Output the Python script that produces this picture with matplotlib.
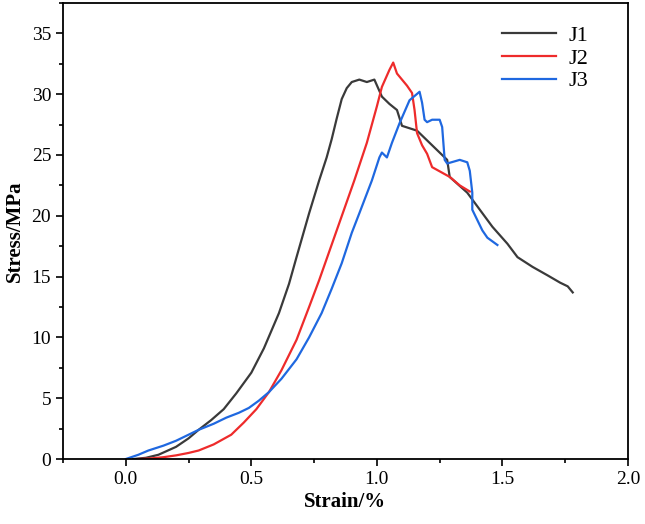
import numpy as np
import matplotlib.pyplot as plt
from matplotlib.ticker import MultipleLocator

# Stress-strain curves
j1_strain = [0.03, 0.08, 0.13, 0.20, 0.25, 0.29, 0.34, 0.39, 0.44, 0.50, 0.55, 0.61, 0.65,
             0.68, 0.73, 0.77, 0.80, 0.82, 0.84, 0.86, 0.88, 0.90, 0.93, 0.96, 0.99, 1.02,
             1.05, 1.08, 1.10, 1.16, 1.22, 1.28, 1.29, 1.36, 1.41, 1.46, 1.52, 1.56, 1.62,
             1.68, 1.73, 1.76, 1.78]
j1_stress = [0.0, 0.1, 0.35, 1.0, 1.7, 2.4, 3.2, 4.1, 5.4, 7.1, 9.1, 12.0, 14.4,
             16.6, 20.2, 22.9, 24.8, 26.3, 28.0, 29.6, 30.5, 31.0, 31.2, 31.0, 31.2, 29.8,
             29.2, 28.7, 27.4, 27.0, 25.8, 24.6, 23.2, 21.9, 20.5, 19.1, 17.7, 16.6, 15.8,
             15.1, 14.5, 14.2, 13.7]

j2_strain = [0.05, 0.10, 0.15, 0.20, 0.25, 0.29, 0.35, 0.42, 0.47, 0.52, 0.57, 0.62,
             0.68, 0.73, 0.77, 0.84, 0.91, 0.96, 1.00, 1.02, 1.05, 1.065,
             1.08, 1.12, 1.14, 1.15, 1.16, 1.18, 1.20, 1.22, 1.29, 1.33, 1.37]
j2_stress = [0.0, 0.05, 0.15, 0.3, 0.5, 0.7, 1.2, 2.0, 3.0, 4.1, 5.5, 7.3,
             9.8, 12.5, 14.7, 18.8, 22.9, 26.0, 29.0, 30.6, 32.0, 32.6,
             31.7, 30.7, 30.1, 28.7, 26.8, 25.8, 25.1, 24.0, 23.2, 22.5, 22.0]

j3_strain = [0.0, 0.05, 0.09, 0.15, 0.20, 0.25, 0.29, 0.35, 0.40, 0.45, 0.49, 0.53,
             0.57, 0.62, 0.68, 0.73, 0.78, 0.82, 0.86, 0.90, 0.93, 0.98,
             1.01, 1.02, 1.04, 1.06, 1.09, 1.13, 1.17, 1.18, 1.19, 1.20, 1.22, 1.25,
             1.26, 1.27, 1.28, 1.33, 1.36, 1.37, 1.38, 1.38, 1.42, 1.44, 1.48]
j3_stress = [0.0, 0.35, 0.7, 1.1, 1.5, 2.0, 2.4, 2.9, 3.4, 3.8, 4.2, 4.8,
             5.5, 6.6, 8.2, 10.0, 12.0, 14.0, 16.1, 18.6, 20.2, 22.9,
             24.8, 25.2, 24.8, 26.0, 27.6, 29.5, 30.2, 29.3, 27.9, 27.7, 27.9, 27.9,
             27.3, 24.6, 24.3, 24.6, 24.4, 23.7, 21.9, 20.5, 18.8, 18.2, 17.6]

labels = ['J1', 'J2', 'J3']
colors = ['#3a3a3a', '#ee2b2b', '#1f68e0']

plt.rcParams['font.family'] = ['Liberation Serif', 'DejaVu Serif']

fig = plt.figure(figsize=(6.45, 5.24), dpi=100)
ax = fig.add_axes([0.0977, 0.124, 0.8759, 0.8703])

curves = [(j1_strain, j1_stress), (j2_strain, j2_stress), (j3_strain, j3_stress)]
for (x, y), lab, c in zip(curves, labels, colors):
    ax.plot(x, y, color=c, lw=1.6, label=lab)

ax.set_xlim(-0.25, 2.0)
ax.set_ylim(0, 37.5)
ax.xaxis.set_minor_locator(MultipleLocator(0.25))
ax.yaxis.set_major_locator(MultipleLocator(5))
ax.yaxis.set_minor_locator(MultipleLocator(2.5))
ax.set_xticks(np.arange(0, 2.01, 0.5))
ax.set_xticklabels([f'{v:.1f}' for v in np.arange(0, 2.01, 0.5)])
ax.tick_params(which='major', direction='out', length=5, width=1.2, labelsize=14)
ax.tick_params(which='minor', direction='out', length=3, width=1.2)
for s in ax.spines.values():
    s.set_linewidth(1.3)

ax.set_xlabel('Strain/%', fontsize=15, fontweight='bold', labelpad=3)
ax.set_ylabel('Stress/MPa', fontsize=15, fontweight='bold', labelpad=5)

ax.legend(loc='upper right', frameon=False, fontsize=16, handlelength=2.4,
          handletextpad=0.6, labelspacing=0.1, borderaxespad=0.6,
          bbox_to_anchor=(0.97, 1.0))

fig.savefig('out.png', dpi=100)
